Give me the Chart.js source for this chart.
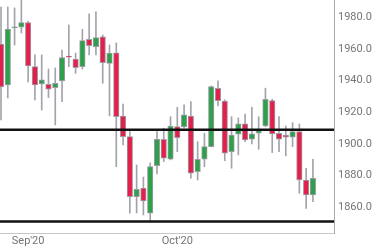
<!DOCTYPE html>
<html>
<head>
<meta charset="utf-8">
<script src="https://cdn.jsdelivr.net/npm/chart.js@4/dist/chart.umd.min.js"></script>
<style>
  html, body { margin: 0; padding: 0; background: #fff; }
  #wrap { width: 381px; height: 251px; position: relative; }
</style>
</head>
<body>
<div id="wrap"><canvas id="goldChart"></canvas></div>
<script>
// daily candles, late Aug -> end of Oct 2020
const opens = [1963.1, 1937.2, 1973.4, 1973.7, 1976.6, 1948.8, 1937.9, 1937.7, 1935.5, 1939.8, 1955.4, 1953.5, 1948.8, 1966.1, 1961.4, 1967.7, 1950.9, 1957.6, 1917.6, 1904.6, 1866.7, 1872.0, 1856.2, 1886.3, 1902.9, 1890.3, 1910.9, 1910.9, 1917.6, 1882.5, 1890.3, 1898.3, 1935.1, 1927.1, 1895.1, 1906.1, 1912.6, 1902.9, 1906.7, 1911.3, 1927.3, 1906.7, 1905.6, 1904.2, 1907.7, 1877.2, 1867.7];
const closes = [1936.0, 1972.6, 1974.0, 1976.6, 1949.2, 1937.2, 1940.4, 1934.5, 1938.3, 1954.5, 1954.8, 1948.2, 1965.2, 1962.1, 1967.1, 1951.3, 1957.3, 1917.2, 1904.6, 1866.7, 1871.3, 1864.0, 1885.6, 1902.9, 1890.9, 1911.3, 1904.0, 1918.3, 1881.5, 1890.3, 1898.3, 1936.2, 1927.3, 1894.1, 1905.6, 1912.6, 1902.5, 1906.3, 1908.4, 1928.2, 1906.3, 1902.9, 1904.2, 1907.7, 1877.2, 1867.7, 1878.3];
const highs = [1986.5, 1986.5, 1985.9, 1991.0, 1977.5, 1956.2, 1956.2, 1947.3, 1948.0, 1959.3, 1975.1, 1957.4, 1972.4, 1982.1, 1983.5, 1968.8, 1962.5, 1963.8, 1925.2, 1907.7, 1886.7, 1879.1, 1888.0, 1907.7, 1909.9, 1917.2, 1923.1, 1924.6, 1926.7, 1901.4, 1906.7, 1936.6, 1939.8, 1927.8, 1917.2, 1916.4, 1918.9, 1923.1, 1917.2, 1935.2, 1928.2, 1917.2, 1911.3, 1913.4, 1912.6, 1884.6, 1890.3];
const lows = [1915.1, 1929.0, 1962.5, 1970.1, 1939.1, 1927.8, 1921.4, 1929.2, 1912.0, 1926.7, 1948.8, 1944.6, 1947.2, 1956.2, 1956.2, 1938.3, 1917.7, 1885.6, 1899.3, 1856.2, 1856.4, 1855.1, 1850.9, 1881.0, 1888.8, 1889.9, 1895.1, 1910.1, 1878.3, 1877.2, 1885.6, 1898.1, 1924.0, 1889.4, 1884.6, 1893.0, 1901.4, 1900.0, 1896.6, 1910.9, 1894.5, 1895.1, 1892.4, 1898.3, 1868.8, 1859.3, 1863.5];

// support / resistance levels
const levels = [1909, 1851];

// month labels and the candle they sit under
const tickIndex = [4, 26];
const tickLabels = ["Sep'20", "Oct'20"];
const yTicks = [1860, 1880, 1900, 1920, 1940, 1960, 1980];

const UP = '#2fa04a';
const DOWN = '#e51f4c';

const bodies = opens.map((o, i) => ({ x: i, y: [o, closes[i]] }));
const wicks = lows.map((l, i) => ({ x: i, y: [l, highs[i]] }));
const bodyColors = opens.map((o, i) => closes[i] >= o ? UP : DOWN);

const levelSets = levels.map(v => ({
  type: 'line',
  data: [{ x: -2, y: v }, { x: 60, y: v }],
  borderColor: '#111',
  borderWidth: 2.5,
  pointRadius: 0,
  clip: 0,
  order: -1
}));

new Chart(document.getElementById('goldChart'), {
  type: 'bar',
  data: {
    datasets: [
      {
        data: wicks,
        backgroundColor: '#a3a3ab',
        borderWidth: 0,
        barThickness: 1,
        grouped: false,
        clip: 0,
        order: 2
      },
      {
        data: bodies,
        backgroundColor: bodyColors,
        borderColor: '#9c9ca4',
        borderWidth: 1,
        borderSkipped: false,
        barThickness: 5.5,
        grouped: false,
        clip: 0,
        order: 1
      },
      ...levelSets
    ]
  },
  options: {
    responsive: true,
    maintainAspectRatio: false,
    animation: false,
    layout: { padding: 0 },
    plugins: {
      legend: { display: false },
      tooltip: { enabled: false }
    },
    scales: {
      x: {
        type: 'linear',
        offset: false,
        min: -0.15,
        max: 49.11,
        grid: { display: false, drawTicks: false },
        border: { display: true, color: '#c8c8c8', width: 1 },
        afterBuildTicks: (scale) => {
          scale.ticks = tickIndex.map(v => ({ value: v }));
        },
        ticks: {
          autoSkip: false,
          maxRotation: 0,
          padding: 2,
          color: '#757575',
          font: { family: 'Roboto', size: 11 },
          callback: (value) => tickLabels[tickIndex.indexOf(value)] || ''
        },
        afterFit: (scale) => {
          scale.height = 18;
          scale.paddingLeft = 0;
          scale.paddingRight = 0;
        }
      },
      y: {
        position: 'right',
        min: 1843.7,
        max: 1990.9,
        grid: { display: false, drawTicks: false },
        border: { display: true, color: '#a8a8a8', width: 1 },
        afterBuildTicks: (scale) => {
          scale.ticks = yTicks.map(v => ({ value: v }));
        },
        ticks: {
          padding: 4,
          color: '#757575',
          font: { family: 'Roboto', size: 11 },
          callback: (value) => Number(value).toFixed(1)
        },
        afterFit: (scale) => {
          scale.width = 47;
          scale.paddingTop = 0;
          scale.paddingBottom = 0;
        }
      }
    }
  }
});
</script>
</body>
</html>
